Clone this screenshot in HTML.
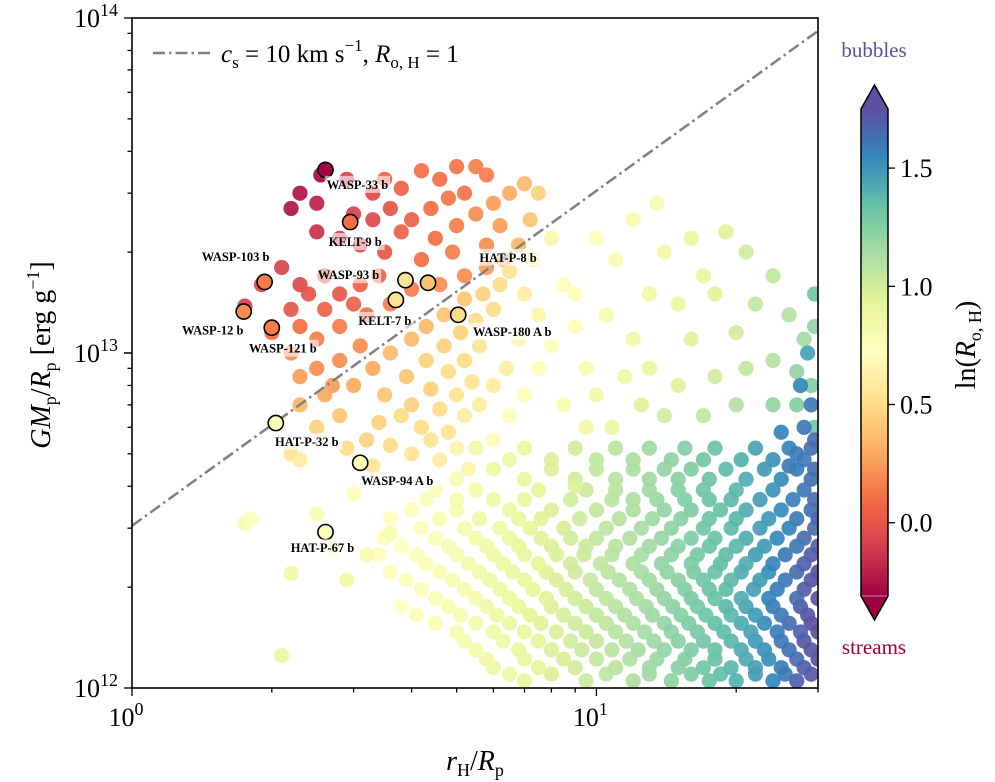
<!DOCTYPE html>
<html><head><meta charset="utf-8">
<style>
html,body{margin:0;padding:0;background:#fff;}
svg{display:block;font-family:"Liberation Serif","DejaVu Serif",serif;}
</style></head>
<body>
<svg id="chart" width="995" height="782" viewBox="0 0 995 782" xmlns="http://www.w3.org/2000/svg">
<defs>
<linearGradient id="cbgrad" x1="0" y1="1" x2="0" y2="0"></linearGradient>
<clipPath id="plotclip"><rect x="132" y="18" width="686" height="670"/></clipPath>
</defs>
<g id="points" clip-path="url(#plotclip)"></g>
<g id="overlay"></g>
</svg>
<script>
// ---------- data ----------
const xVals = [2.55,2.3,2.2,2.5,2.9,3.3,3.0,3.3,3.6,3.8,3.5,4.2,4.6,5.0,5.5,5.8,5.2,4.8,4.4,4.0,3.8,4.5,5.0,5.5,6.0,6.5,7.0,6.2,5.8,4.9,4.2,3.5,3.1,2.8,2.5,2.1,1.9,2.3,2.6,2.4,2.8,3.1,3.4,3.0,2.6,2.2,1.75,2.0,2.3,2.5,2.8,3.2,3.6,4.0,4.6,5.2,5.8,6.3,6.8,7.2,7.5,2.2,2.5,2.8,3.1,2.3,2.7,
2.3,2.6,3.0,3.3,3.6,4.0,4.3,4.7,5.2,5.7,6.2,3.5,3.9,4.3,4.7,5.1,5.5,6.0,4.0,4.4,4.8,5.2,5.6,3.4,3.8,4.2,4.6,5.0,5.4,4.4,4.8,5.2,5.6,6.0,6.4,4.0,3.6,3.2,2.9,3.3,4.6,5.0,5.3,2.8,2.5,2.2,2.3,1.75,1.8,2.5,3.0,2.2,2.1,2.9,3.2,2.7,3.6,6.0,6.5,7.0,7.5,8.0,6.8,7.5,7.0,6.5,7.3,8.0,8.5,9.0,9.5,10.0,
10,12,13.5,11,14,16,19,21,24,17,13,15,18,22,26,28,29.5,20,16,12,10.5,9,11.5,13,15,18,21,24,27,29,29.5,27,24,20,17,14,12.5,10.8,9.5,8.5,9,
27.5,29,28,29.5,27,25,26,29.5,28.5];
const yVals = [34,30,27,28,33,30,26,25,27,31,33,35,33,36,36,34,30,29,27,25,23,22,24,26,28,30,32,24,21,20,19,20,21,22,23,18,16,16,17,15,15,16,17,14,13.5,13.5,13.8,11.5,12,11,12,13,14,15.5,16,17,18,19,21,25,30,10,9,9.5,10.5,8.5,8,
7,7.5,8,9,10,11,12,13,14.5,15,16,7.5,8.5,9.5,10.5,11.5,12.5,13.5,7,7.8,8.8,9.5,10.5,6.2,6.5,6,6.8,7.5,8.2,5.5,5.8,6.5,7,8,9,5,5.3,5.5,5.2,4.6,4.8,5.2,4.5,6.5,6,5,4.8,3.1,3.2,3.3,3.8,2.2,1.25,2.1,2.5,2.6,2.9,5.5,6.5,7.5,9,10.5,11,13,15,17.5,19,22,16,12,9,7.5,
22,25,28,19,20,22,23,20,17,17,15,14,15,14,13,11,12,11.5,11,11,13,15,8.5,9,8,8.5,9,9.5,8.8,8,6,7,7,7,6.5,6.5,7,6,6,7,4,
8,7,6,5.5,5,5.8,4.6,15,10];
const cVals = [-0.28,-0.25,-0.25,-0.2,-0.1,-0.05,-0.1,-0.05,0.0,0.05,0.05,0.1,0.1,0.12,0.15,0.15,0.12,0.12,0.1,0.05,0.05,0.1,0.15,0.2,0.25,0.3,0.35,0.25,0.2,0.15,0.1,0.0,-0.05,-0.1,-0.15,-0.08,-0.05,-0.05,-0.05,0.0,0.0,0.05,0.05,0.05,0.05,0.0,-0.1,0.1,0.1,0.15,0.15,0.1,0.15,0.15,0.2,0.2,0.25,0.3,0.35,0.4,0.45,0.2,0.2,0.2,0.2,0.25,0.25,
0.35,0.3,0.3,0.3,0.35,0.35,0.35,0.4,0.4,0.45,0.5,0.4,0.4,0.45,0.45,0.45,0.5,0.5,0.45,0.45,0.5,0.5,0.55,0.45,0.5,0.5,0.5,0.55,0.55,0.55,0.55,0.6,0.6,0.6,0.6,0.55,0.5,0.45,0.5,0.55,0.6,0.65,0.65,0.4,0.45,0.55,0.6,0.8,0.75,0.8,0.7,0.85,0.9,0.85,0.8,0.8,0.8,0.7,0.7,0.7,0.7,0.75,0.65,0.65,0.6,0.55,0.6,0.65,0.7,0.75,0.8,0.85,
0.75,0.8,0.8,0.8,0.85,0.9,0.95,1.0,1.05,0.9,0.85,0.9,0.95,1.05,1.1,1.15,1.2,1.0,0.95,0.85,0.8,0.75,0.85,0.9,0.95,1.0,1.05,1.1,1.2,1.25,1.3,1.25,1.2,1.1,1.05,1.0,0.95,0.9,0.85,0.8,0.95,
1.55,1.6,1.6,1.65,1.6,1.55,1.6,1.3,1.45];

const denseRowY = [5.2,4.5,3.9,3.4,3.0,2.65,2.35,2.1,1.85,1.65,1.47,1.3,1.15,1.05];
const denseRowX = [
 [5.5,7,9,11,13,15.5,18,22,26,29],
 [6,8,10,12,14,16,19,23,27,29.5],
 [4.5,5.5,7.5,9.5,11,13,15,17,20,24,28],
 [4,5,6.5,8,10,12,14,16,18.5,21,25,29],
 [4.2,5.2,6.2,7.2,8.5,10.5,12.5,14.5,17,19.5,22.5,26,29.5],
 [3.8,4.8,5.8,6.8,8,9.5,11,13,15,17.5,20,23,27,30],
 [4.3,5.3,6.3,7.5,8.8,10.2,12,13.8,16,18.5,21,24,28],
 [3.9,4.9,5.9,7,8.2,9.7,11.2,13,15,17,19.5,22.5,25.5,29],
 [4.5,5.5,6.5,7.8,9,10.5,12.2,14,16,18,20.5,23.5,27,30],
 [4.1,5.1,6.1,7.2,8.5,10,11.5,13.2,15.2,17.2,19.5,22,25,28.5],
 [5,6,7,8.2,9.5,11,12.7,14.5,16.5,18.8,21.5,24.5,27.5,30],
 [5.5,6.8,8,9.3,10.8,12.3,14,16,18,20.5,23,26,29],
 [6,7.5,9,11,13,15,17,19.5,22,25,28],
 [7,9.5,12,14.5,17.5,20,24,27]
];
const denseRowC = [
 [0.85,0.9,1.0,1.08,1.16,1.25,1.33,1.45,1.56,1.63],
 [0.86,0.96,1.05,1.12,1.2,1.26,1.36,1.48,1.58,1.64],
 [0.78,0.83,0.93,1.02,1.08,1.16,1.23,1.3,1.38,1.5,1.6],
 [0.75,0.8,0.88,0.96,1.05,1.12,1.2,1.26,1.34,1.42,1.53,1.63],
 [0.76,0.81,0.87,0.92,0.98,1.06,1.14,1.22,1.3,1.37,1.47,1.56,1.65],
 [0.72,0.8,0.85,0.9,0.96,1.02,1.08,1.16,1.23,1.32,1.38,1.48,1.6,1.7],
 [0.78,0.82,0.87,0.93,1.0,1.05,1.12,1.2,1.27,1.35,1.42,1.55,1.68],
 [0.75,0.8,0.86,0.9,0.97,1.04,1.1,1.16,1.23,1.3,1.37,1.47,1.6,1.72],
 [0.78,0.83,0.88,0.95,1.0,1.06,1.13,1.2,1.27,1.33,1.42,1.55,1.65,1.75],
 [0.76,0.8,0.86,0.92,0.98,1.05,1.1,1.17,1.24,1.31,1.38,1.48,1.6,1.72],
 [0.8,0.86,0.9,0.96,1.02,1.08,1.15,1.22,1.28,1.36,1.45,1.58,1.68,1.75],
 [0.83,0.9,0.96,1.02,1.08,1.14,1.2,1.26,1.33,1.42,1.5,1.62,1.72],
 [0.86,0.93,1.0,1.08,1.16,1.23,1.3,1.38,1.46,1.6,1.7],
 [0.9,1.02,1.12,1.22,1.33,1.4,1.55,1.68]
];

const fillRowY = [4.8,4.2,3.65,3.2,2.8,2.5,2.22,1.97,1.75,1.56,1.38,1.22,1.1];
const fillRowX = [
 [6.5,8,10,12,14.5,17,20.5,24,28],
 [5,7,9,11,13,15,17.5,21,25,29],
 [4.3,5,6,7,8.8,10.8,12,13.5,15.5,17.5,19.5,22.5,26.5,29.5],
 [3.6,4.6,5.6,6.8,7.6,9.2,11.2,13.2,15.2,17.5,20,23.5,27,30],
 [3.5,4.5,5.5,6.5,7.6,8.8,10,11.8,13.8,16,18,21,24.5,28],
 [3.4,4.1,5,6,7,8.2,9.4,10.8,12.5,14.5,16.5,19,22,25.5,29],
 [3.6,4.6,5.6,6.6,7.8,9,10.6,12.5,14.2,16.2,18,20.5,23.5,27,30],
 [4.2,5.2,6.2,7.3,8.6,10,11.8,13.5,15.5,17.5,19,21.8,24.5,28],
 [3.8,4.8,5.8,6.8,8,9.5,11,12.8,14.6,16.5,19,21,24,27.5],
 [4.5,5.5,6.5,7.6,9,10.5,12,14,15.8,18,20.5,23,26,29],
 [5.2,6.3,7.5,8.8,10,11.6,13.3,15,17,19.5,22,25,28],
 [5.8,7,8.5,10,11.8,13.5,15.5,18,21,23.5,27,30],
 [6.5,8,10.5,13,16,18.5,22,25.5,29]
];
const fillRowC = [
 [0.88,0.96,1.05,1.12,1.22,1.3,1.4,1.5,1.6],
 [0.8,0.9,1.0,1.08,1.16,1.23,1.32,1.42,1.53,1.63],
 [0.77,0.8,0.86,0.9,0.99,1.07,1.12,1.18,1.25,1.32,1.37,1.47,1.57,1.65],
 [0.71,0.79,0.84,0.9,0.94,1.01,1.09,1.17,1.24,1.32,1.38,1.49,1.6,1.7],
 [0.7,0.78,0.83,0.88,0.94,0.99,1.05,1.11,1.19,1.26,1.33,1.42,1.54,1.65],
 [0.7,0.76,0.8,0.86,0.9,0.97,1.02,1.07,1.14,1.22,1.28,1.36,1.47,1.6,1.7],
 [0.71,0.79,0.84,0.89,0.95,1.0,1.07,1.14,1.21,1.27,1.33,1.42,1.52,1.65,1.75],
 [0.76,0.81,0.87,0.92,0.98,1.05,1.11,1.18,1.25,1.32,1.36,1.46,1.58,1.7],
 [0.72,0.8,0.85,0.9,0.96,1.02,1.08,1.15,1.22,1.28,1.38,1.45,1.58,1.7],
 [0.78,0.83,0.88,0.94,1.0,1.06,1.12,1.2,1.26,1.34,1.43,1.53,1.65,1.75],
 [0.81,0.87,0.93,0.99,1.05,1.1,1.17,1.23,1.3,1.38,1.48,1.6,1.72],
 [0.85,0.9,0.98,1.05,1.11,1.18,1.25,1.33,1.43,1.52,1.65,1.75],
 [0.88,0.96,1.06,1.16,1.26,1.35,1.47,1.6,1.72]
];

const hlNames = ["WASP-33 b","KELT-9 b","WASP-103 b","WASP-12 b","WASP-121 b","WASP-93 b","KELT-7 b","HAT-P-8 b","WASP-180 A b","HAT-P-32 b","WASP-94 A b","HAT-P-67 b"];
const hlX = [2.61,2.95,1.93,1.74,2.0,3.88,3.7,4.34,5.04,2.04,3.1,2.61];
const hlY = [35.2,24.6,16.3,13.3,11.9,16.5,14.4,16.2,13.0,6.18,4.7,2.92];
const hlC = [-0.3,0.1,0.15,0.2,0.15,0.55,0.55,0.4,0.5,0.75,0.7,0.75];
// label offsets (layout, px)
const hlDx = [32,5,-29,-31,11,-57,-11,80,54,31,37,-3];
const hlDy = [15,20,-25,19,21,-5,21,-25,17,19,18,16];

const xTickVals = [1,10];
const xTickExp = ["0","1"];
const yTickVals = [1e12,1e13,1e14];
const yTickExp = ["12","13","14"];
const cbTicks = [0.0,0.5,1.0,1.5];
const cbTickLabels = ["0.0","0.5","1.0","1.5"];
const lineCoef = 3.05e12;

// ---------- scales ----------
const PL=132, PR=818, PT=18, PB=688;
const XMIN=1, XMAX=30.0, YMIN=1e12, YMAX=1e14;
const VMIN=-0.31, VMAX=1.75;
function sx(v){return PL+(Math.log10(v)-Math.log10(XMIN))/(Math.log10(XMAX)-Math.log10(XMIN))*(PR-PL);}
function sy(v){return PB-(Math.log10(v)-Math.log10(YMIN))/(Math.log10(YMAX)-Math.log10(YMIN))*(PB-PT);}
const CB_TOP=109, CB_BOT=596, CB_L=861, CB_R=888;
function sc(v){return CB_BOT-(v-VMIN)/(VMAX-VMIN)*(CB_BOT-CB_TOP);}
const spectral=["#9e0142","#d53e4f","#f46d43","#fdae61","#fee08b","#ffffbf","#e6f598","#abdda4","#66c2a5","#3288bd","#5e4fa2"];
function hex(h){return [parseInt(h.substr(1,2),16),parseInt(h.substr(3,2),16),parseInt(h.substr(5,2),16)];}
function cmap(v){
  let t=(v-VMIN)/(VMAX-VMIN); t=Math.max(0,Math.min(1,t));
  const p=t*10, i=Math.min(9,Math.floor(p)), f=p-i;
  const a=hex(spectral[i]), b=hex(spectral[i+1]);
  return "rgb("+a.map((x,k)=>Math.round(x+(b[k]-x)*f)).join(",")+")";
}
const NS="http://www.w3.org/2000/svg";
function mk(tag,attrs,parent){const e=document.createElementNS(NS,tag);for(const k in attrs)e.setAttribute(k,attrs[k]);parent.appendChild(e);return e;}
const pts=document.getElementById("points");
const ov=document.getElementById("overlay");
const R=7.6;

function drawRows(rowY,rowX,rowC){
  rowY.forEach((yv,r)=>{
    rowX[r].forEach((xv,i)=>{
      const c=mk("circle",{cx:sx(xv),cy:sy(yv*1e12),r:R,fill:cmap(rowC[r][i]),"fill-opacity":0.92},pts);
      
      
    });
  });
}
drawRows(fillRowY,fillRowX,fillRowC);
drawRows(denseRowY,denseRowX,denseRowC);
xVals.forEach((xv,i)=>{
  const c=mk("circle",{cx:sx(xv),cy:sy(yVals[i]*1e12),r:R,fill:cmap(cVals[i]),"fill-opacity":0.92},pts);
  
  
});

const ln=mk("line",{x1:sx(XMIN),y1:sy(lineCoef*XMIN),x2:sx(XMAX),y2:sy(lineCoef*XMAX),stroke:"#808080","stroke-width":2.5,"stroke-dasharray":"12,4,2.5,4"},pts);



hlNames.forEach((n,i)=>{
  const px=sx(hlX[i]), py=sy(hlY[i]*1e12);
  const c=mk("circle",{cx:px,cy:py,r:R,fill:cmap(hlC[i]),stroke:"#000","stroke-width":1.6},pts);
  
  
  const lx=px+hlDx[i], ly=py+hlDy[i];
  const w=n.length*6.6+6;
  const bg=mk("rect",{x:lx-w/2,y:ly-9,width:w,height:17,fill:"#fff","fill-opacity":0.6},ov);
  
  
  const t=mk("text",{x:lx,y:ly+4,"text-anchor":"middle","font-size":12.5,"font-weight":"bold",fill:"#000"},ov);
  t.textContent=n;
  
  
});

const fr=mk("rect",{x:PL,y:PT,width:PR-PL,height:PB-PT,fill:"none",stroke:"#000","stroke-width":1.6},ov);



for(let d=1;d<=30;d++){
  const dec=Math.pow(10,Math.floor(Math.log10(d)+1e-9));
  const m=d/dec; if(m!==Math.round(m))continue;
  const major=(m===1);
  const X=sx(d);
  const tk=mk("line",{x1:X,y1:PB,x2:X,y2:PB+(major?8:4.5),stroke:"#000","stroke-width":1.3},ov);
  
  
}
xTickVals.forEach((v,i)=>{
  const t=mk("text",{x:sx(v)-6,y:PB+38,"text-anchor":"middle","font-size":26,fill:"#000"},ov);
  t.innerHTML='10<tspan dy="-11" font-size="18">'+xTickExp[i]+'</tspan>';
  
  
});
[1e12,1e13].forEach(dec=>{
  for(let m=1;m<=10;m++){
    const v=dec*m; const Y=sy(v); const major=(m===1||m===10);
    const tk=mk("line",{x1:PL,y1:Y,x2:PL-(major?8:4.5),y2:Y,stroke:"#000","stroke-width":1.3},ov);
    
    
  }
});
yTickVals.forEach((v,i)=>{
  const t=mk("text",{x:PL-14,y:sy(v)+9,"text-anchor":"end","font-size":26,fill:"#000"},ov);
  t.innerHTML='10<tspan dy="-11" font-size="18">'+yTickExp[i]+'</tspan>';
  
  
});

const xt=mk("text",{x:475,y:770,"text-anchor":"middle","font-size":28,fill:"#000"},ov);
xt.innerHTML='<tspan font-style="italic">r</tspan><tspan font-size="18" dy="6">H</tspan><tspan dy="-6">/</tspan><tspan font-style="italic">R</tspan><tspan font-size="18" dy="6">p</tspan>';


const yt=mk("text",{x:0,y:0,"text-anchor":"middle","font-size":28,fill:"#000",transform:"translate(50,355) rotate(-90)"},ov);
yt.innerHTML='<tspan font-style="italic">GM</tspan><tspan font-size="18" dy="6">p</tspan><tspan dy="-6">/</tspan><tspan font-style="italic">R</tspan><tspan font-size="18" dy="6">p</tspan><tspan dy="-6"> [erg g</tspan><tspan font-size="18" dy="-11">−1</tspan><tspan dy="11">]</tspan>';



const lg=mk("g",{},ov);


mk("line",{x1:153,y1:53,x2:210,y2:53,stroke:"#808080","stroke-width":2.5,"stroke-dasharray":"12,4,2.5,4"},lg);
const lt=mk("text",{x:221,y:62,"font-size":25,fill:"#000"},lg);
lt.innerHTML='<tspan font-style="italic">c</tspan><tspan font-size="17" dy="6">s</tspan><tspan dy="-6"> = 10 km s</tspan><tspan font-size="17" dy="-11">−1</tspan><tspan dy="11">, </tspan><tspan font-style="italic">R</tspan><tspan font-size="17" dy="6">o, H</tspan><tspan dy="-6"> = 1</tspan>';

const grad=document.getElementById("cbgrad");
spectral.forEach((c,i)=>{mk("stop",{offset:(i/10),"stop-color":c},grad);});
const cb=mk("g",{},ov);


mk("rect",{x:CB_L,y:CB_TOP,width:CB_R-CB_L,height:CB_BOT-CB_TOP,fill:"url(#cbgrad)"},cb);
mk("polygon",{points:`${CB_L},${CB_TOP} ${(CB_L+CB_R)/2},${CB_TOP-24} ${CB_R},${CB_TOP}`,fill:"#5e4fa2"},cb);
mk("polygon",{points:`${CB_L},${CB_BOT} ${(CB_L+CB_R)/2},${CB_BOT+24} ${CB_R},${CB_BOT}`,fill:"#9e0142"},cb);
mk("line",{x1:CB_L,y1:CB_BOT,x2:CB_R,y2:CB_BOT,stroke:"#fff","stroke-width":0.8,"stroke-opacity":0.7},cb);
mk("path",{d:`M${CB_L},${CB_TOP} L${(CB_L+CB_R)/2},${CB_TOP-24} L${CB_R},${CB_TOP} L${CB_R},${CB_BOT} L${(CB_L+CB_R)/2},${CB_BOT+24} L${CB_L},${CB_BOT} Z`,fill:"none",stroke:"#000","stroke-width":1.5},cb);
cbTicks.forEach((v,i)=>{
  const Y=sc(v);
  const tk=mk("line",{x1:CB_R,y1:Y,x2:CB_R+7,y2:Y,stroke:"#000","stroke-width":1.3},cb);
  
  
  const t=mk("text",{x:CB_R+12,y:Y+9,"font-size":26,fill:"#000"},cb);
  t.textContent=cbTickLabels[i];
  
  
});
const cbl=mk("text",{x:0,y:0,"text-anchor":"middle","font-size":28,fill:"#000",transform:"translate(975,345) rotate(-90)"},ov);
cbl.innerHTML='ln(<tspan font-style="italic">R</tspan><tspan font-size="18" dy="6">o, H</tspan><tspan dy="-6">)</tspan>';


const bb=mk("text",{x:874,y:57,"text-anchor":"middle","font-size":21,fill:"#5e4fa2"},ov);
bb.textContent="bubbles";


const st=mk("text",{x:874,y:654,"text-anchor":"middle","font-size":21,fill:"#9e0142"},ov);
st.textContent="streams";


</script>
</body></html>
